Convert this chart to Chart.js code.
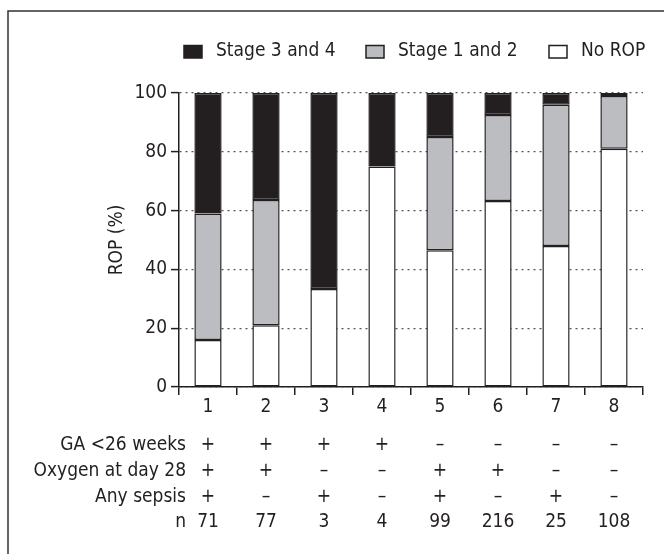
<!DOCTYPE html>
<html>
<head>
<meta charset="utf-8">
<script src="https://cdn.jsdelivr.net/npm/chart.js@4.4.1/dist/chart.umd.min.js"></script>
<style>
  html, body { margin: 0; padding: 0; background: #fff; }
  #c { display: block; }
</style>
</head>
<body>
<canvas id="c" width="664" height="554"></canvas>
<script>
const categories = ['1', '2', '3', '4', '5', '6', '7', '8'];
const noRop   = [16, 21, 33.3, 75, 46.5, 63.3, 48, 81];
const stage12 = [43, 42.6, 0, 0, 38.5, 29.2, 48, 18];
const stage34 = [41, 36.4, 66.7, 25, 15, 7.5, 4, 1];
const rowLabels = ['GA <26 weeks', 'Oxygen at day 28', 'Any sepsis', 'n'];
const gaRow     = ['+', '+', '+', '+', '–', '–', '–', '–'];
const oxygenRow = ['+', '+', '–', '–', '+', '+', '–', '–'];
const sepsisRow = ['+', '–', '+', '–', '+', '–', '+', '–'];
const nRow      = ['71', '77', '3', '4', '99', '216', '25', '108'];
const yTicks    = [0, 20, 40, 60, 80, 100];

const FONT = '"Liberation Sans Narrow", "DejaVu Sans Condensed", sans-serif';
const FS = 19;
const INK = '#231f20';

const decor = {
  id: 'decor',
  afterDraw(chart) {
    const ctx = chart.ctx;
    const x = chart.scales.x;
    ctx.save();
    // frame
    ctx.strokeStyle = '#333';
    ctx.lineWidth = 1.5;
    ctx.beginPath();
    ctx.moveTo(8, 560);
    ctx.lineTo(8, 11);
    ctx.lineTo(670, 11);
    ctx.stroke();
    // table rows
    ctx.font = FS + 'px ' + FONT;
    ctx.fillStyle = INK;
    ctx.textBaseline = 'middle';
    const rows = [gaRow, oxygenRow, sepsisRow, nRow];
    const rowY = [445, 471, 497, 522];
    rows.forEach((row, r) => {
      ctx.textAlign = 'right';
      ctx.fillText(rowLabels[r], 186, rowY[r]);
      ctx.textAlign = 'center';
      row.forEach((v, i) => {
        ctx.fillText(v, x.getPixelForValue(i), rowY[r]);
      });
    });
    // legend (reversed dataset order)
    const ds = chart.data.datasets.slice().reverse();
    const boxX = [184, 366, 549];
    ds.forEach((d, i) => {
      ctx.fillStyle = d.backgroundColor;
      ctx.strokeStyle = INK;
      ctx.lineWidth = 1.5;
      ctx.fillRect(boxX[i], 45.5, 18, 12.5);
      ctx.strokeRect(boxX[i], 45.5, 18, 12.5);
      ctx.fillStyle = INK;
      ctx.textAlign = 'left';
      ctx.fillText(d.label, boxX[i] + 32, 51.5);
    });
    ctx.restore();
  }
};

new Chart(document.getElementById('c'), {
  type: 'bar',
  data: {
    labels: categories,
    datasets: [
      { label: 'No ROP', data: noRop, backgroundColor: '#ffffff' },
      { label: 'Stage 1 and 2', data: stage12, backgroundColor: '#bcbdc0' },
      { label: 'Stage 3 and 4', data: stage34, backgroundColor: INK }
    ]
  },
  options: {
    responsive: false,
    animation: false,
    devicePixelRatio: 1,
    layout: { padding: { top: 93, right: 21, bottom: 0, left: 0 } },
    datasets: {
      bar: {
        borderColor: INK,
        borderWidth: 1.5,
        borderSkipped: false,
        categoryPercentage: 1,
        barPercentage: 0.47
      }
    },
    plugins: { legend: { display: false }, tooltip: { enabled: false } },
    scales: {
      x: {
        stacked: true,
        afterFit(s) { s.height = 167; },
        grid: { display: true, drawOnChartArea: false, drawTicks: true, tickLength: 8, offset: true, color: INK, lineWidth: 1.5 },
        border: { display: true, color: INK, width: 1.5 },
        ticks: { color: INK, font: { family: FONT, size: FS }, padding: 1 }
      },
      y: {
        stacked: true,
        min: 0, max: 100,
        afterFit(s) { s.width = 179; },
        afterBuildTicks(s) { s.ticks = yTicks.map(v => ({ value: v })); },
        grid: { color: '#555', lineWidth: 1.2, tickLength: 8, tickColor: INK, tickWidth: 1.5, tickBorderDash: [] },
        border: { display: true, color: INK, width: 1.5, dash: [2, 4] },
        ticks: { color: INK, font: { family: FONT, size: FS }, padding: 4 },
        title: { display: true, text: 'ROP (%)', color: INK, font: { family: FONT, size: FS }, padding: { top: 106, bottom: 0 } }
      }
    }
  },
  plugins: [decor]
});
</script>
</body>
</html>
